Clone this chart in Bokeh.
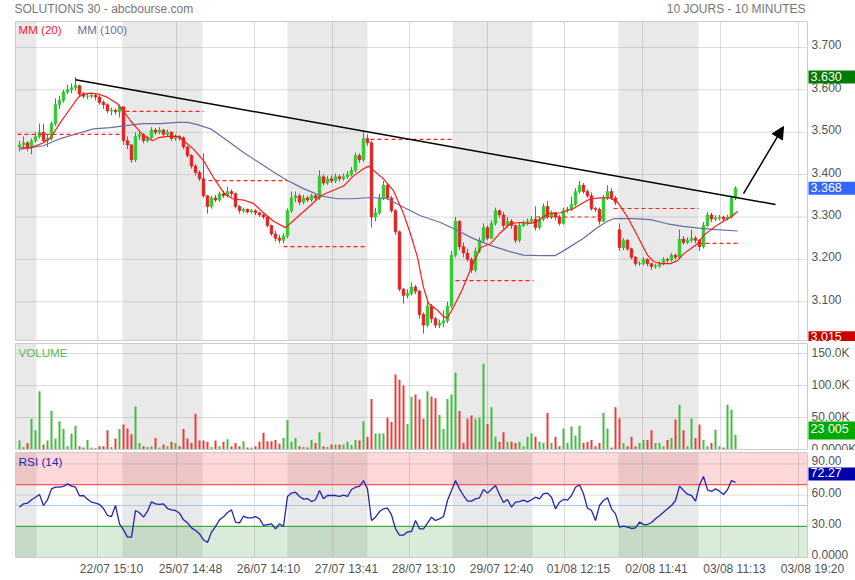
from bokeh.plotting import figure
from bokeh.layouts import column
from bokeh.models import Range1d, Label, Arrow, NormalHead, ColumnDataSource
from bokeh.embed import file_html
from bokeh.resources import INLINE

FONT = "Liberation Sans"

# ---------------- data ----------------
opens = [
3.465, 3.470, 3.475, 3.465, 3.480, 3.490, 3.500, 3.480, 3.485, 3.520,
3.565, 3.575, 3.595, 3.600, 3.605, 3.610, 3.590, 3.585, 3.585, 3.587,
3.583, 3.570, 3.565, 3.550, 3.552, 3.548, 3.560, 3.480, 3.470, 3.435,
3.490, 3.495, 3.480, 3.487, 3.505, 3.500, 3.505, 3.495, 3.500, 3.485,
3.490, 3.487, 3.465, 3.445, 3.420, 3.405, 3.390, 3.350, 3.325, 3.345,
3.340, 3.355, 3.350, 3.360, 3.355, 3.325, 3.315, 3.318, 3.312, 3.315,
3.310, 3.305, 3.300, 3.280, 3.260, 3.250, 3.245, 3.255, 3.315, 3.345,
3.350, 3.335, 3.345, 3.340, 3.350, 3.345, 3.395, 3.380, 3.390, 3.385,
3.395, 3.390, 3.395, 3.400, 3.410, 3.445, 3.435, 3.485, 3.475, 3.300,
3.310, 3.345, 3.375, 3.345, 3.315, 3.265, 3.130, 3.115, 3.120, 3.135,
3.125, 3.070, 3.045, 3.090, 3.060, 3.045, 3.050, 3.055, 3.090, 3.210,
3.290, 3.230, 3.215, 3.200, 3.175, 3.220, 3.245, 3.275, 3.250, 3.285,
3.315, 3.305, 3.280, 3.290, 3.280, 3.245, 3.280, 3.285, 3.290, 3.295,
3.275, 3.295, 3.325, 3.300, 3.310, 3.300, 3.285, 3.315, 3.318, 3.330,
3.360, 3.375, 3.360, 3.350, 3.320, 3.318, 3.290, 3.345, 3.360, 3.345,
3.270, 3.228, 3.245, 3.225, 3.205, 3.190, 3.190, 3.200, 3.190, 3.183,
3.185, 3.190, 3.200, 3.198, 3.210, 3.205, 3.248, 3.240, 3.245, 3.250,
3.245, 3.230, 3.280, 3.305, 3.295, 3.298, 3.300, 3.295, 3.300, 3.345,
]
closes = [
3.470, 3.475, 3.465, 3.480, 3.490, 3.500, 3.480, 3.485, 3.520, 3.565,
3.575, 3.595, 3.600, 3.605, 3.610, 3.590, 3.585, 3.585, 3.587, 3.583,
3.570, 3.565, 3.550, 3.552, 3.548, 3.560, 3.480, 3.470, 3.435, 3.490,
3.495, 3.480, 3.487, 3.505, 3.500, 3.505, 3.495, 3.500, 3.485, 3.490,
3.487, 3.465, 3.445, 3.420, 3.405, 3.390, 3.350, 3.325, 3.345, 3.340,
3.355, 3.350, 3.360, 3.355, 3.325, 3.315, 3.318, 3.312, 3.315, 3.310,
3.305, 3.300, 3.280, 3.260, 3.250, 3.245, 3.255, 3.315, 3.345, 3.350,
3.335, 3.345, 3.340, 3.350, 3.345, 3.395, 3.380, 3.390, 3.385, 3.395,
3.390, 3.395, 3.400, 3.410, 3.445, 3.435, 3.485, 3.475, 3.300, 3.310,
3.345, 3.375, 3.345, 3.315, 3.265, 3.130, 3.115, 3.120, 3.135, 3.125,
3.070, 3.045, 3.090, 3.060, 3.045, 3.050, 3.055, 3.090, 3.210, 3.290,
3.230, 3.215, 3.200, 3.175, 3.220, 3.245, 3.275, 3.250, 3.285, 3.315,
3.305, 3.280, 3.290, 3.280, 3.245, 3.280, 3.285, 3.290, 3.295, 3.275,
3.295, 3.325, 3.300, 3.310, 3.300, 3.285, 3.315, 3.318, 3.330, 3.360,
3.375, 3.360, 3.350, 3.320, 3.318, 3.290, 3.345, 3.360, 3.345, 3.335,
3.228, 3.245, 3.225, 3.205, 3.190, 3.190, 3.200, 3.190, 3.183, 3.185,
3.190, 3.200, 3.198, 3.210, 3.205, 3.248, 3.240, 3.245, 3.250, 3.245,
3.230, 3.280, 3.305, 3.295, 3.298, 3.300, 3.295, 3.300, 3.345, 3.368,
]
highs = [
3.480, 3.490, 3.478, 3.485, 3.500, 3.520, 3.520, 3.495, 3.525, 3.580,
3.585, 3.600, 3.612, 3.615, 3.630, 3.612, 3.595, 3.592, 3.592, 3.590,
3.588, 3.575, 3.568, 3.558, 3.556, 3.565, 3.560, 3.490, 3.472, 3.500,
3.502, 3.498, 3.492, 3.512, 3.510, 3.512, 3.508, 3.506, 3.502, 3.495,
3.493, 3.490, 3.468, 3.448, 3.425, 3.410, 3.450, 3.352, 3.350, 3.352,
3.360, 3.362, 3.372, 3.365, 3.358, 3.328, 3.322, 3.320, 3.319, 3.318,
3.312, 3.308, 3.302, 3.282, 3.268, 3.258, 3.262, 3.320, 3.360, 3.360,
3.355, 3.352, 3.350, 3.355, 3.356, 3.410, 3.400, 3.397, 3.398, 3.402,
3.400, 3.402, 3.408, 3.418, 3.452, 3.450, 3.500, 3.495, 3.480, 3.322,
3.355, 3.385, 3.378, 3.350, 3.318, 3.268, 3.132, 3.130, 3.145, 3.140,
3.128, 3.075, 3.100, 3.095, 3.065, 3.058, 3.080, 3.100, 3.220, 3.300,
3.292, 3.240, 3.225, 3.205, 3.228, 3.252, 3.285, 3.280, 3.292, 3.322,
3.318, 3.312, 3.300, 3.295, 3.282, 3.288, 3.292, 3.296, 3.302, 3.325,
3.302, 3.332, 3.338, 3.315, 3.312, 3.305, 3.322, 3.324, 3.348, 3.368,
3.385, 3.380, 3.365, 3.358, 3.324, 3.322, 3.352, 3.375, 3.368, 3.350,
3.285, 3.250, 3.248, 3.228, 3.208, 3.196, 3.205, 3.203, 3.192, 3.190,
3.196, 3.205, 3.204, 3.215, 3.214, 3.270, 3.255, 3.252, 3.270, 3.255,
3.248, 3.288, 3.312, 3.310, 3.304, 3.305, 3.303, 3.305, 3.350, 3.372,
]
lows = [
3.455, 3.462, 3.455, 3.448, 3.475, 3.485, 3.475, 3.465, 3.480, 3.515,
3.555, 3.570, 3.590, 3.592, 3.598, 3.585, 3.580, 3.578, 3.580, 3.575,
3.565, 3.555, 3.545, 3.540, 3.542, 3.535, 3.470, 3.460, 3.428, 3.430,
3.482, 3.474, 3.476, 3.483, 3.494, 3.495, 3.490, 3.490, 3.480, 3.480,
3.480, 3.460, 3.440, 3.414, 3.398, 3.385, 3.345, 3.308, 3.320, 3.335,
3.336, 3.345, 3.346, 3.348, 3.320, 3.308, 3.310, 3.308, 3.308, 3.304,
3.300, 3.295, 3.275, 3.255, 3.242, 3.238, 3.238, 3.250, 3.310, 3.335,
3.328, 3.330, 3.335, 3.336, 3.340, 3.340, 3.375, 3.376, 3.380, 3.380,
3.384, 3.386, 3.390, 3.396, 3.405, 3.428, 3.430, 3.468, 3.275, 3.290,
3.305, 3.340, 3.340, 3.310, 3.258, 3.125, 3.096, 3.108, 3.115, 3.118,
3.060, 3.025, 3.040, 3.050, 3.038, 3.038, 3.040, 3.050, 3.085, 3.205,
3.222, 3.205, 3.195, 3.168, 3.170, 3.215, 3.240, 3.245, 3.248, 3.280,
3.298, 3.272, 3.275, 3.272, 3.238, 3.240, 3.276, 3.280, 3.285, 3.268,
3.270, 3.290, 3.295, 3.295, 3.292, 3.280, 3.282, 3.310, 3.314, 3.326,
3.355, 3.355, 3.345, 3.315, 3.312, 3.282, 3.288, 3.340, 3.340, 3.328,
3.220, 3.222, 3.220, 3.200, 3.184, 3.185, 3.186, 3.184, 3.175, 3.178,
3.180, 3.186, 3.192, 3.195, 3.200, 3.202, 3.235, 3.236, 3.240, 3.238,
3.220, 3.226, 3.276, 3.288, 3.290, 3.292, 3.290, 3.292, 3.296, 3.340,
]
# volume in thousands of shares
volumes = [
14, 4, 10, 48, 30, 91, 8, 14, 60, 17,
44, 32, 5, 25, 37, 5, 3, 15, 3, 2,
5, 5, 30, 4, 17, 32, 39, 33, 24, 67,
10, 5, 4, 5, 18, 3, 8, 5, 12, 10,
5, 32, 17, 10, 56, 14, 14, 12, 4, 14,
5, 12, 16, 5, 10, 5, 13, 3, 3, 5,
12, 26, 13, 13, 15, 9, 18, 46, 12, 18,
5, 4, 3, 15, 10, 27, 5, 4, 8, 8,
8, 8, 12, 7, 15, 14, 44, 20, 79, 25,
25, 25, 50, 43, 117, 109, 100, 40, 82, 86,
78, 48, 91, 83, 80, 54, 32, 79, 86, 120,
60, 10, 48, 53, 48, 50, 134, 40, 66, 20,
12, 27, 12, 12, 10, 12, 5, 20, 25, 20,
12, 10, 57, 10, 20, 5, 33, 10, 36, 22,
37, 10, 12, 15, 5, 10, 57, 33, 3, 66,
49, 10, 5, 20, 5, 10, 15, 15, 30, 10,
10, 5, 15, 18, 47, 70, 30, 5, 49, 18,
39, 15, 5, 10, 31, 5, 3, 70, 62, 23,
]
rsi = [
48.4, 51.6, 52.2, 55.5, 58.0, 60.6, 50.0, 55.5, 66.0, 67.6,
67.6, 68.3, 70.8, 68.6, 67.6, 59.3, 59.6, 56.1, 53.2, 52.2,
51.0, 47.1, 40.4, 39.4, 50.0, 32.4, 26.6, 19.6, 19.6, 45.2,
43.0, 38.8, 44.5, 53.5, 51.6, 51.0, 51.6, 47.1, 45.8, 45.2,
42.6, 36.2, 33.3, 28.5, 26.0, 22.8, 17.0, 14.4, 24.4, 29.8,
36.2, 39.1, 43.3, 45.8, 34.0, 33.3, 39.7, 38.1, 38.1, 39.4,
37.2, 30.8, 31.7, 32.4, 27.6, 32.4, 29.8, 58.7, 61.9, 62.8,
58.7, 56.1, 56.7, 53.8, 55.5, 64.4, 56.4, 59.6, 59.6, 59.6,
58.7, 60.0, 58.7, 65.4, 67.6, 68.3, 74.0, 66.0, 35.6, 38.8,
44.2, 46.8, 47.4, 41.0, 27.6, 21.5, 21.5, 24.7, 25.0, 35.6,
27.6, 27.6, 33.0, 38.8, 35.6, 37.2, 39.4, 54.8, 64.4, 74.0,
66.0, 59.6, 54.2, 54.2, 56.4, 57.4, 65.4, 61.9, 65.7, 69.2,
60.6, 52.9, 55.8, 48.4, 53.2, 53.8, 55.1, 53.5, 55.5, 58.0,
56.4, 61.5, 61.9, 58.0, 46.8, 53.2, 55.8, 55.1, 59.6, 67.6,
69.9, 61.2, 47.4, 45.2, 35.6, 50.0, 54.8, 57.4, 46.8, 42.0,
29.2, 30.1, 29.2, 27.9, 28.5, 34.0, 31.7, 31.7, 33.7, 37.2,
40.1, 43.6, 46.8, 50.0, 54.8, 68.6, 64.4, 60.9, 59.6, 54.2,
69.9, 77.9, 65.1, 63.5, 66.0, 63.8, 60.6, 65.1, 74.0, 72.3,
]
ma20_x = [0.25, 2.75, 6, 7.75, 10.25, 12.25, 14.5, 15.75, 17.75, 19.75, 22, 24.5, 26,
          27.75, 29.5, 31, 33.25, 34.75, 37, 39.5, 41, 43.5, 46, 48.5, 51, 53.25, 56,
          58.5, 61, 63.5, 66.5, 69.5, 72.75, 75.25, 77.75, 81, 83.5, 86, 87.25, 88.5,
          91, 93.5, 96, 97.75, 99.5, 101, 102.25, 104.5, 106, 107, 108.5, 110.75,
          112.75, 115.25, 117.75, 120.25, 122.75, 125.25, 127.75, 129.5, 132, 135.25,
          138.5, 141, 142.75, 145.25, 147.75, 149.5, 152, 154.5, 157, 158.5, 160.25,
          162.75, 164.5, 166, 167.75, 169.5, 171, 173.5, 176, 178.25, 179.5]
ma20_y = [3.463, 3.463, 3.475, 3.487, 3.523, 3.550, 3.580, 3.590, 3.592, 3.590, 3.582,
          3.567, 3.550, 3.527, 3.508, 3.492, 3.480, 3.487, 3.490, 3.490, 3.480, 3.460,
          3.433, 3.393, 3.358, 3.343, 3.340, 3.332, 3.310, 3.290, 3.275, 3.300, 3.327,
          3.350, 3.360, 3.373, 3.397, 3.414, 3.420, 3.410, 3.390, 3.362, 3.308, 3.260,
          3.205, 3.134, 3.096, 3.080, 3.065, 3.062, 3.087, 3.130, 3.176, 3.228, 3.237,
          3.263, 3.285, 3.287, 3.285, 3.290, 3.308, 3.310, 3.320, 3.334, 3.343, 3.345,
          3.345, 3.335, 3.300, 3.255, 3.210, 3.195, 3.190, 3.190, 3.197, 3.213, 3.225,
          3.237, 3.256, 3.275, 3.290, 3.303, 3.313]
ma100_x = [0.25, 6, 10.25, 14.5, 18.5, 22.75, 27, 31, 35.25, 39.5, 42, 44.5, 47.75, 52,
           56, 60.25, 64.5, 67, 71, 75.25, 79.5, 83.5, 87.75, 92, 96, 100.25, 105.25,
           109.5, 113.5, 117.75, 122, 126, 130.25, 134, 137, 141, 144.5, 147, 148.5,
           153.5, 157.75, 162, 166, 170.25, 174.5, 179.5]
ma100_y = [3.460, 3.468, 3.485, 3.497, 3.508, 3.511, 3.516, 3.520, 3.520, 3.523, 3.523,
           3.518, 3.508, 3.480, 3.452, 3.426, 3.400, 3.386, 3.367, 3.350, 3.343, 3.343,
           3.346, 3.343, 3.323, 3.303, 3.287, 3.268, 3.249, 3.233, 3.220, 3.210, 3.209,
           3.209, 3.226, 3.250, 3.275, 3.290, 3.296, 3.296, 3.294, 3.284, 3.278, 3.273,
           3.270, 3.267]
level_x0 = [-0.5, 26.5, 47.25, 66, 87.75, 109, 129, 148.5, 169.75]
level_x1 = [25.75, 46, 67, 87, 108.25, 128.5, 146.5, 169.75, 179.5]
level_y = [3.495, 3.549, 3.386, 3.230, 3.483, 3.150, 3.300, 3.320, 3.238]
trend_x = [14, 189]
trend_y = [3.6236, 3.3295]
arrow_x = [181, 191]
arrow_y = [3.3554, 3.5134]
day_start = [-1, 25.75, 67, 108.25, 149.75]
day_end = [4.25, 45.75, 87, 128.25, 169.75]
grid_x = [19.5, 39.25, 58.75, 78.25, 97.5, 117, 136.25, 155.75, 175.25, 194.75]
time_labels = ["22/07 15:10", "25/07 14:48", "26/07 14:10", "27/07 13:41", "28/07 13:10",
               "29/07 12:40", "01/08 12:15", "02/08 11:41", "03/08 11:13", "03/08 19:20"]
price_ticks = [3.1, 3.2, 3.3, 3.4, 3.5, 3.6, 3.7]
price_tick_labels = ["3.100", "3.200", "3.300", "3.400", "3.500", "3.600", "3.700"]
vol_ticks = [0, 50, 100, 150]
vol_tick_labels = ["0.0000K", "50.00K", "100.0K", "150.0K"]
rsi_ticks = [0, 30, 60, 90]
rsi_tick_labels = ["0.0000", "30.00", "60.00", "90.00"]
price_high, price_low, price_last = 3.630, 3.015, 3.368
last_volume_text = "23 005"
last_rsi = 72.27

# ---------------- build ----------------
bar_x = list(range(len(closes)))
up = [c >= o for o, c in zip(opens, closes)]
src = ColumnDataSource(dict(
    x=bar_x, o=opens, h=highs, l=lows, c=closes, v=volumes, r=rsi,
    cc=["#2ecb2e" if u else "#e02222" for u in up],
    vc=["#44bb44" if u else "#ee3c3c" for u in up],
))

# one bar index = 4 px; the whole canvas is the frame, the plot boxes are drawn
xr = Range1d(-4.75, 209.0)
X_LEFT, X_RIGHT = -1.0, 197.0
AX_X = 198.0      # right label column
BOX_X = 197.25    # value boxes


def panel(h, y0, y1, bottom, top):
    p = figure(width=855, height=h, x_range=xr, y_range=Range1d(y0, y1),
               output_backend="svg", toolbar_location=None,
               x_axis_location=None, y_axis_location=None, min_border=0)
    p.min_border_left = p.min_border_right = 0
    p.min_border_top = p.min_border_bottom = 0
    p.outline_line_color = None
    p.grid.visible = False
    p.background_fill_color = "white"
    p.border_fill_color = "white"
    p.quad(left=day_start, right=day_end, bottom=bottom, top=top,
           fill_color="black", fill_alpha=0.085, line_color=None)
    return p


def grid(p, bottom, top, hticks):
    n = len(grid_x)
    p.segment(grid_x, [bottom] * n, grid_x, [top] * n, line_color="#8a8a8a",
              line_alpha=0.3, line_width=1)
    m = len(hticks)
    if m:
        p.segment([X_LEFT] * m, hticks, [X_RIGHT] * m, hticks, line_color="#8a8a8a",
                  line_alpha=0.3, line_width=1)


def outline(p, bottom, top):
    p.quad(left=X_LEFT, right=X_RIGHT, bottom=bottom, top=top, fill_color=None,
           line_color="#cccccc", line_width=1)


def txt(p, x, y, s, color, size="12px", align="left"):
    p.add_layout(Label(x=x, y=y, text=s, text_color=color, text_font=FONT,
                       text_font_size=size, text_align=align, text_baseline="middle"))


def box(p, y, s, bg):
    p.add_layout(Label(x=BOX_X, y=y, text=s, text_color="white", text_font=FONT,
                       text_font_size="12.5px", text_align="left", text_baseline="middle",
                       background_fill_color=bg, padding=(2, 20, 1, 3)))


# price panel  (canvas y 0..341, plot box y 21..340)
P_BOT, P_TOP = 3.00873, 3.76108
p1 = panel(341, 3.00637, 3.81061, P_BOT, P_TOP)
grid(p1, P_BOT, P_TOP, price_ticks)
p1.segment("x", "h", "x", "l", source=src, line_color="#6a6a6a", line_width=1)
p1.vbar("x", 0.7, "o", "c", source=src, fill_color="cc", line_color="cc", line_width=0.6)
p1.line(ma100_x, ma100_y, line_color="#6b6ba6", line_width=1.2)
p1.line(ma20_x, ma20_y, line_color="#ff1a1a", line_width=1.2)
p1.segment(level_x0, level_y, level_x1, level_y, line_color="#ff2020", line_width=1.2,
           line_dash="4 3")
p1.line(trend_x, trend_y, line_color="black", line_width=1.5)
p1.add_layout(Arrow(end=NormalHead(size=12, fill_color="black", line_color="black"),
                    x_start=arrow_x[0], y_start=arrow_y[0], x_end=arrow_x[1], y_end=arrow_y[1],
                    line_color="black", line_width=1.5))
outline(p1, P_BOT, P_TOP)
for v, s in zip(price_ticks, price_tick_labels):
    txt(p1, AX_X, v + 0.006, s, "#555555")
box(p1, price_high, "3.630", "#007a00")
box(p1, price_last, "3.368", "#3366ff")
box(p1, price_low, "3.015", "#cc0000")
txt(p1, -1.25, 3.7917, "SOLUTIONS 30 - abcbourse.com", "#777777", "12px")
txt(p1, 196.5, 3.7917, "10 JOURS - 10 MINUTES", "#777777", "12px", align="right")
txt(p1, -0.25, 3.7422, "MM (20)", "#ff2020", "11.6px")
txt(p1, 14.5, 3.7422, "MM (100)", "#6b6ba6", "11.6px")

# volume panel (canvas y 341..450, plot box 343..449)
V_BOT, V_TOP = 0.0, 165.625
p2 = panel(109, -1.5625, 168.75, V_BOT, V_TOP)
grid(p2, V_BOT, V_TOP, [50, 100, 150])
p2.vbar("x", 0.5, "v", 0, source=src, fill_color="vc", line_color=None)
outline(p2, V_BOT, V_TOP)
for v, s in zip(vol_ticks, vol_tick_labels):
    txt(p2, AX_X, v + 1.5, s, "#555555")
box(p2, 29.7, last_volume_text, "#00aa00")
txt(p2, -0.25, 151.6, "VOLUME", "#55bb55", "11.6px")

# RSI panel (canvas y 450..580, plot box 452..557)
R_BOT, R_TOP = 0.0, 100.96
p3 = panel(130, -22.115, 102.885, R_BOT, R_TOP)
p3.quad(left=X_LEFT, right=X_RIGHT, bottom=70, top=R_TOP, fill_color="red", fill_alpha=0.15,
        line_color=None)
p3.quad(left=X_LEFT, right=X_RIGHT, bottom=R_BOT, top=30, fill_color="green", fill_alpha=0.15,
        line_color=None)
grid(p3, R_BOT, R_TOP, [60, 90])
p3.segment([X_LEFT] * 3, [70, 50, 30], [X_RIGHT] * 3, [70, 50, 30],
           line_color=["#ff5555", "#a8c8f0", "#44aa44"], line_width=1.2)
p3.line("x", "r", source=src, line_color="#2424b4", line_width=1.3)
outline(p3, R_BOT, R_TOP)
for v, s in zip(rsi_ticks, rsi_tick_labels):
    txt(p3, AX_X, v + 2.8, s, "#555555")
box(p3, 80.3, f"{last_rsi:.2f}", "#0000aa")
txt(p3, -0.25, 92.3, "RSI (14)", "#2424b4", "11.8px")
for gx, s in zip(grid_x, time_labels):
    txt(p3, gx + 3.5, -10.6, s, "#555555", align="center")

layout = column(p1, p2, p3)
open("out.html", "w").write(file_html(layout, INLINE))
